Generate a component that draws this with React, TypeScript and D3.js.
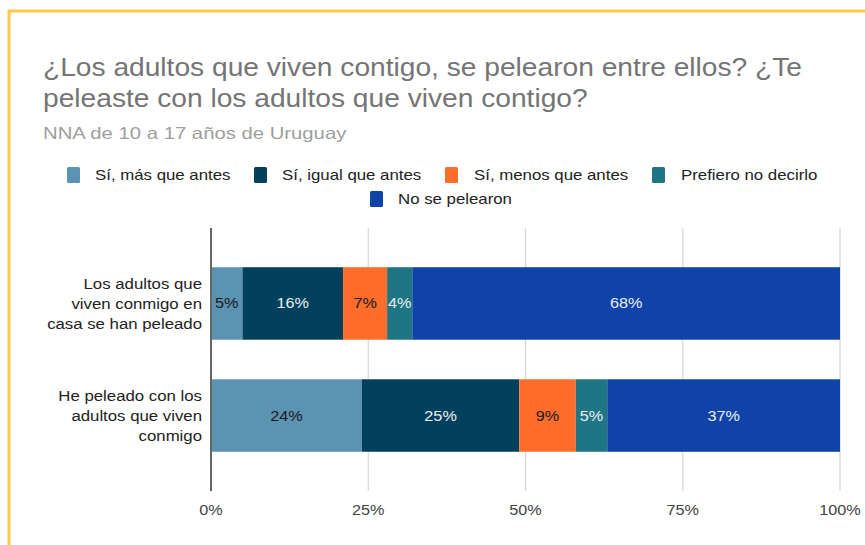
import React from "react";
import * as d3 from "d3";

const categories = [
  ["Los adultos que", "viven conmigo en", "casa se han peleado"],
  ["He peleado con los", "adultos que viven", "conmigo"],
];
const seriesNames = [
  "Sí, más que antes",
  "Sí, igual que antes",
  "Sí, menos que antes",
  "Prefiero no decirlo",
  "No se pelearon",
];
const row1Values = [5, 16, 7, 4, 68];
const row2Values = [24, 25, 9, 5, 37];
const tickValues = [0, 25, 50, 75, 100];
const colors = ["#5b93b3", "#03405b", "#ff6d2c", "#1e7584", "#0f43a7"];
const labelColors = ["#1a1a1a", "#e8eef3", "#1a1a1a", "#e8eef3", "#e8eef3"];

const W = 865;
const H = 545;

function SText(props: {
  x: number;
  y: number;
  sx: number;
  size: number;
  fill: string;
  anchor?: string;
  children: React.ReactNode;
}) {
  return (
    <text
      transform={`translate(${props.x},${props.y}) scale(${props.sx},1)`}
      fontSize={props.size}
      fill={props.fill}
      textAnchor={props.anchor || "start"}
    >
      {props.children}
    </text>
  );
}

export default function App() {
  const x = d3.scaleLinear().domain([0, 100]).range([211, 840]);
  const y = d3
    .scaleBand()
    .domain(["0", "1"])
    .range([228, 491])
    .paddingInner(0.353)
    .paddingOuter(0.35);
  const rows = [row1Values, row2Values];
  const stacked = rows.map((vals) => {
    let acc = 0;
    return vals.map((v) => {
      const s = { x0: acc, x1: acc + v, v };
      acc += v;
      return s;
    });
  });
  const font = "'Liberation Sans', Arial, sans-serif";
  const legendItems = [
    { i: 0, sx: 67, tx: 95, cy: 175 },
    { i: 1, sx: 254, tx: 282, cy: 175 },
    { i: 2, sx: 445, tx: 474, cy: 175 },
    { i: 3, sx: 652, tx: 681, cy: 175 },
    { i: 4, sx: 370, tx: 398, cy: 199 },
  ];
  return (
    <div style={{ position: "absolute", left: 0, top: 0 }}>
      <svg width={W} height={H} style={{ display: "block", fontFamily: font }}>
        <rect x={0} y={0} width={W} height={H} fill="#fff" />
        <line x1={8} x2={W} y1={11} y2={11} stroke="#fdc94b" strokeWidth={3} />
        <line x1={9} x2={9} y1={10} y2={H} stroke="#fdc94b" strokeWidth={3} />
        <SText x={43} y={76} sx={1.063} size={26.5} fill="#757575">
          ¿Los adultos que viven contigo, se pelearon entre ellos? ¿Te
        </SText>
        <SText x={43} y={107} sx={1.063} size={26.5} fill="#757575">
          peleaste con los adultos que viven contigo?
        </SText>
        <SText x={43} y={139} sx={1.23} size={16.5} fill="#9e9e9e">
          NNA de 10 a 17 años de Uruguay
        </SText>
        {legendItems.map((d) => (
          <g key={d.i}>
            <rect x={d.sx} y={d.cy - 8} width={13} height={16} rx={1.5} fill={colors[d.i]} />
            <SText x={d.tx} y={d.cy + 5} sx={1.16} size={14.5} fill="#222">
              {seriesNames[d.i]}
            </SText>
          </g>
        ))}
        {tickValues.slice(1).map((t) => (
          <line key={t} x1={x(t)} x2={x(t)} y1={228} y2={491} stroke="#d6d6d6" strokeWidth={1.2} />
        ))}
        {stacked.map((segs, r) => (
          <g key={r}>
            {segs.map((s, i) => (
              <rect
                key={i}
                x={x(s.x0)}
                y={y(String(r))!}
                width={x(s.x1) - x(s.x0)}
                height={y.bandwidth()}
                fill={colors[i]}
              />
            ))}
            {segs.map((s, i) => (
              <SText
                key={"t" + i}
                x={(x(s.x0) + x(s.x1)) / 2}
                y={y(String(r))! + y.bandwidth() / 2 + 5}
                anchor="middle"
                sx={1.12}
                size={14.5}
                fill={labelColors[i]}
              >
                {s.v}%
              </SText>
            ))}
            {categories[r].map((line, li) => (
              <SText
                key={"c" + li}
                x={202}
                y={y(String(r))! + y.bandwidth() / 2 + 5.5 + (li - 1) * 20}
                anchor="end"
                sx={1.12}
                size={15}
                fill="#222"
              >
                {line}
              </SText>
            ))}
          </g>
        ))}
        <line x1={x(0)} x2={x(0)} y1={228} y2={491} stroke="#666" strokeWidth={2} />
        {tickValues.map((t) => (
          <SText key={t} x={x(t)} y={515} anchor="middle" sx={1.12} size={14.5} fill="#444">
            {t}%
          </SText>
        ))}
      </svg>
    </div>
  );
}
